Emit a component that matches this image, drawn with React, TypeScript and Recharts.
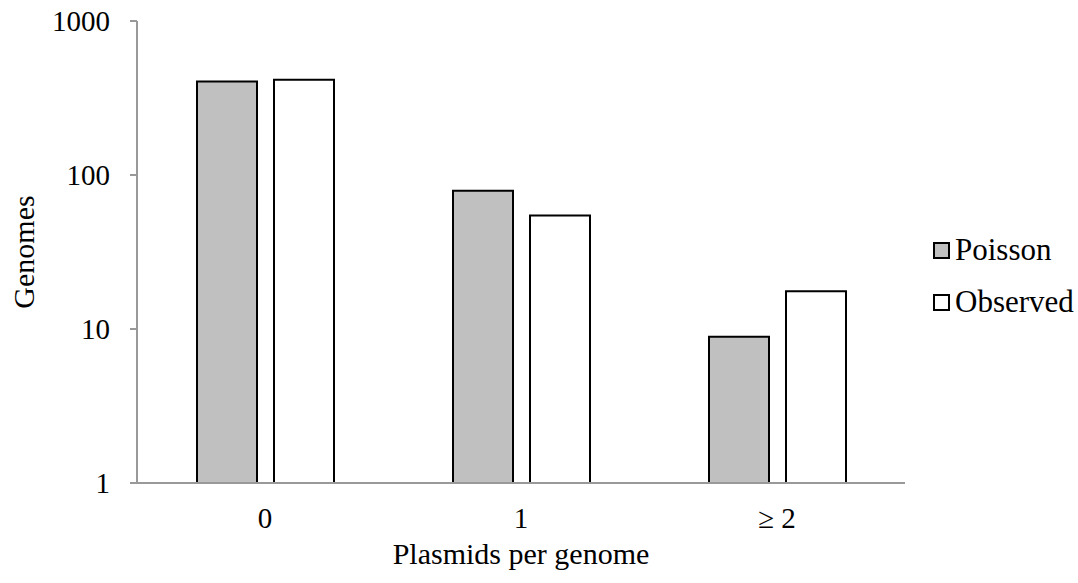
import { BarChart, Bar, XAxis, YAxis, Legend } from 'recharts';

const categories = ['0', '1', '≥ 2'];
const poisson = [404, 79, 8.9];
const observed = [416, 54.5, 17.6];
const seriesOrder = ['Poisson', 'Observed'];
const yTicks = [1, 10, 100, 1000];
const edgeTicks = [0, 1, 2, 3];

const data = categories.map((name, i) => ({
    name,
    Poisson: poisson[i],
    Observed: observed[i]
}));

const font = "'Liberation Serif', 'Times New Roman', Tinos, 'Noto Serif', 'DejaVu Serif', FreeSerif, Times, serif";
const axisGrey = '#999999';

const LegendBox = (props: any) => {
    const items = [...(props.payload || [])].sort(
        (a: any, b: any) => seriesOrder.indexOf(a.value) - seriesOrder.indexOf(b.value)
    );
    return (
        <div style={{ fontFamily: font, fontSize: 31, color: '#000' }}>
            {items.map((p: any) => (
                <div key={p.value} style={{ display: 'flex', alignItems: 'center', height: 52 }}>
                    <span
                        style={{
                            display: 'inline-block',
                            width: 13,
                            height: 13,
                            border: '2px solid #000',
                            background: p.payload.fill,
                            marginRight: 5
                        }}
                    />
                    <span>{p.value}</span>
                </div>
            ))}
        </div>
    );
};

const App = () => {
    return (
        <div style={{ position: 'absolute', left: 0, top: 0 }}>
            <BarChart
                width={1078}
                height={583}
                data={data}
                margin={{ top: 21, right: 173, bottom: 0, left: 0 }}
                barSize={60}
                barGap={17}
            >
                {/* numeric axis only used for the tick marks between categories */}
                <XAxis
                    xAxisId={0}
                    type="number"
                    domain={[0, 3]}
                    ticks={edgeTicks}
                    height={1}
                    tick={false}
                    tickSize={7}
                    tickLine={{ stroke: axisGrey, strokeWidth: 2 }}
                    axisLine={{ stroke: axisGrey, strokeWidth: 2 }}
                />
                <XAxis
                    xAxisId="cat"
                    dataKey="name"
                    height={99}
                    axisLine={false}
                    tickLine={false}
                    tickSize={0}
                    tickMargin={23}
                    tick={{ fill: '#000', fontSize: 29, fontFamily: font }}
                    label={{
                        value: 'Plasmids per genome',
                        position: 'insideBottom',
                        offset: 19,
                        fill: '#000',
                        fontSize: 30,
                        fontFamily: font
                    }}
                />
                <YAxis
                    scale="log"
                    domain={[1, 1000]}
                    ticks={yTicks}
                    allowDataOverflow
                    width={137}
                    tickSize={7}
                    tickMargin={20}
                    axisLine={{ stroke: axisGrey, strokeWidth: 2 }}
                    tickLine={{ stroke: axisGrey, strokeWidth: 2 }}
                    tick={{ fill: '#000', fontSize: 29, fontFamily: font }}
                    label={{
                        value: 'Genomes',
                        angle: -90,
                        position: 'center',
                        dx: -45,
                        fill: '#000',
                        fontSize: 30,
                        fontFamily: font
                    }}
                />
                <Legend
                    layout="vertical"
                    align="center"
                    verticalAlign="middle"
                    content={<LegendBox />}
                    wrapperStyle={{ left: 933, top: 224, width: 145 }}
                />
                <Bar xAxisId="cat" dataKey="Poisson" fill="#c0c0c0" stroke="#000" strokeWidth={2} isAnimationActive={false} />
                <Bar xAxisId="cat" dataKey="Observed" fill="#ffffff" stroke="#000" strokeWidth={2} isAnimationActive={false} />
            </BarChart>
        </div>
    );
};

export default App;
